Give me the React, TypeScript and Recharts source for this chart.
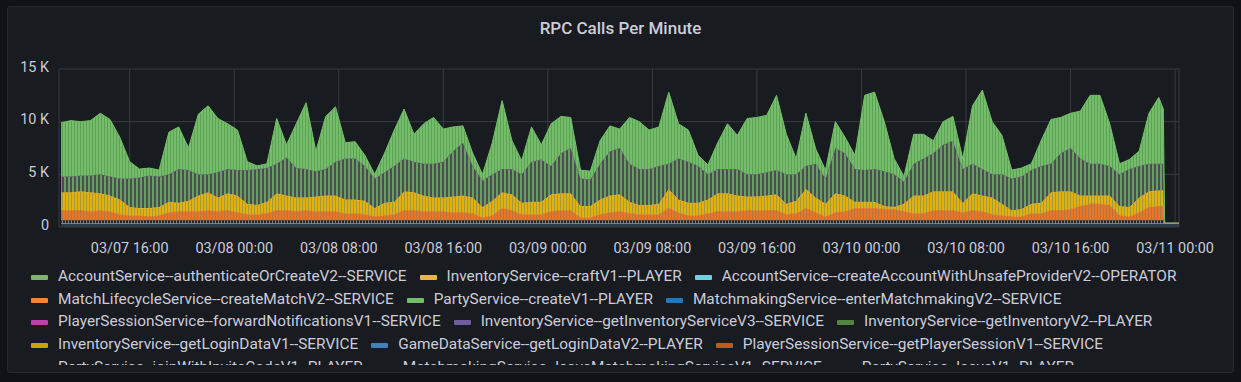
import React from "react";
import { AreaChart, Area, XAxis, YAxis, CartesianGrid } from "recharts";

// hours since 03/07 00:00, one row every 45 minutes, then the drop at the end
const times: number[] = Array.from({ length: 113 }, (_, i) => 10.75 + 0.75 * i).concat([95.1, 95.2, 96.3]);

// values in thousands of calls per minute
const unsafeProviderK = [
  0.35, 0.35, 0.35, 0.35, 0.35, 0.35, 0.35, 0.35, 0.35, 0.35, 0.35, 0.35, 0.35, 0.35, 0.35, 0.35, 0.35, 0.35, 0.35, 0.35,
  0.35, 0.35, 0.35, 0.35, 0.35, 0.35, 0.35, 0.35, 0.35, 0.35, 0.35, 0.35, 0.35, 0.35, 0.35, 0.35, 0.35, 0.35, 0.35, 0.35,
  0.35, 0.35, 0.35, 0.35, 0.35, 0.35, 0.35, 0.35, 0.35, 0.35, 0.35, 0.35, 0.35, 0.35, 0.35, 0.35, 0.35, 0.35, 0.35, 0.35,
  0.35, 0.35, 0.35, 0.35, 0.35, 0.35, 0.35, 0.35, 0.35, 0.35, 0.35, 0.35, 0.35, 0.35, 0.35, 0.35, 0.35, 0.35, 0.35, 0.35,
  0.35, 0.35, 0.35, 0.35, 0.35, 0.35, 0.35, 0.35, 0.35, 0.35, 0.35, 0.35, 0.35, 0.35, 0.35, 0.35, 0.35, 0.35, 0.35, 0.35,
  0.35, 0.35, 0.35, 0.35, 0.35, 0.35, 0.35, 0.35, 0.35, 0.35, 0.35, 0.35, 0.35, 0.35, 0.35, 0.35,
];

const loginDataV2K = [
  0.3, 0.3, 0.3, 0.3, 0.3, 0.3, 0.3, 0.3, 0.3, 0.3, 0.3, 0.3, 0.3, 0.3, 0.3, 0.3, 0.3, 0.3, 0.3, 0.3,
  0.3, 0.3, 0.3, 0.3, 0.3, 0.3, 0.3, 0.3, 0.3, 0.3, 0.3, 0.3, 0.3, 0.3, 0.3, 0.3, 0.3, 0.3, 0.3, 0.3,
  0.3, 0.3, 0.3, 0.3, 0.3, 0.3, 0.3, 0.3, 0.3, 0.3, 0.3, 0.3, 0.3, 0.3, 0.3, 0.3, 0.3, 0.3, 0.3, 0.3,
  0.3, 0.3, 0.3, 0.3, 0.3, 0.3, 0.3, 0.3, 0.3, 0.3, 0.3, 0.3, 0.3, 0.3, 0.3, 0.3, 0.3, 0.3, 0.3, 0.3,
  0.3, 0.3, 0.3, 0.3, 0.3, 0.3, 0.3, 0.3, 0.3, 0.3, 0.3, 0.3, 0.3, 0.3, 0.3, 0.3, 0.3, 0.3, 0.3, 0.3,
  0.3, 0.3, 0.3, 0.3, 0.3, 0.3, 0.3, 0.3, 0.3, 0.3, 0.3, 0.3, 0.3, 0.3, 0, 0,
];

const createMatchK = [
  0.95, 0.95, 0.95, 0.85, 0.95, 0.85, 0.55, 0.45, 0.45, 0.35,
  0.45, 0.75, 0.85, 0.85, 0.85, 0.95, 0.85, 0.95, 0.75, 0.55,
  0.55, 0.65, 0.95, 0.95, 0.85, 0.95, 0.85, 0.85, 0.85, 0.65,
  0.65, 0.55, 0.35, 0.45, 0.55, 0.95, 0.95, 0.85, 0.85, 0.85,
  0.75, 0.75, 0.65, 0.25, 0.45, 1.15, 0.95, 0.55, 0.55, 0.55,
  0.85, 0.95, 0.95, 0.25, 0.25, 0.55, 0.75, 0.85, 0.65, 0.55,
  0.55, 0.55, 1.15, 0.75, 0.45, 0.45, 0.65, 0.85, 0.85, 0.85,
  0.95, 0.95, 0.95, 0.95, 0.55, 0.65, 1.15, 0.75, 0.35, 0.75,
  0.85, 1.15, 1.15, 1.15, 1.05, 1.05, 0.85, 0.65, 0.65, 0.95,
  0.95, 0.95, 0.75, 0.95, 0.85, 0.55, 0.45, 0.35, 0.35, 0.65,
  0.65, 0.95, 0.95, 1.05, 1.35, 1.55, 1.55, 1.45, 0.45, 0.35,
  0.75, 1.25, 1.35, 1.35, 0, 0,
];

const craftK = [
  1.7, 1.7, 1.8, 1.8, 1.6, 1.5, 1.4, 0.8, 0.7, 0.8,
  0.8, 1.0, 0.8, 1.0, 1.5, 1.7, 1.3, 1.6, 1.6, 1.0,
  0.9, 1.1, 1.6, 1.4, 1.3, 1.2, 1.4, 1.5, 1.5, 1.3,
  1.3, 1.3, 0.8, 1.2, 1.2, 1.8, 1.7, 1.5, 1.3, 1.3,
  1.5, 1.6, 1.5, 1.0, 1.4, 1.5, 1.5, 1.1, 1.2, 1.2,
  1.6, 1.6, 1.6, 1.1, 1.1, 1.4, 1.6, 1.6, 1.1, 0.9,
  0.9, 1.0, 1.8, 1.2, 1.2, 1.2, 1.3, 1.7, 1.7, 1.5,
  1.3, 1.3, 1.4, 1.5, 1.0, 1.2, 1.8, 1.4, 1.2, 1.8,
  1.5, 0.6, 0.6, 0.6, 0.3, 0.2, 0.7, 1.7, 1.7, 1.8,
  1.8, 1.8, 0.9, 1.6, 1.5, 1.6, 1.1, 0.6, 0.7, 0.9,
  1.0, 1.7, 1.8, 1.7, 1.0, 0.8, 0.8, 0.9, 0.9, 0.9,
  1.4, 1.5, 1.5, 1.5, 0, 0,
];

const inventoryV2K = [
  1.5, 1.5, 1.5, 1.6, 1.8, 1.8, 2.0, 2.7, 2.9, 3.1,
  2.9, 2.6, 3.2, 2.9, 2.0, 1.7, 2.4, 2.3, 2.4, 3.2,
  3.4, 3.2, 2.8, 3.6, 2.8, 2.7, 2.4, 2.5, 3.2, 3.9,
  3.9, 3.3, 2.8, 2.9, 3.4, 3.1, 2.9, 3.0, 3.2, 3.4,
  4.3, 5.0, 3.0, 2.5, 2.5, 2.2, 2.4, 2.7, 3.8, 4.0,
  2.7, 3.8, 4.3, 2.6, 2.5, 3.4, 4.2, 4.4, 3.6, 3.4,
  3.4, 3.6, 2.4, 3.9, 3.9, 3.5, 2.4, 2.3, 2.3, 2.5,
  2.1, 2.1, 2.2, 2.3, 2.8, 2.5, 2.2, 3.2, 2.4, 4.3,
  4.0, 3.1, 3.0, 3.1, 3.3, 3.1, 2.1, 3.0, 3.5, 3.6,
  4.4, 4.8, 3.2, 2.8, 2.5, 2.2, 2.8, 3.0, 3.1, 3.2,
  3.5, 2.7, 3.6, 4.1, 3.5, 3.0, 3.0, 2.8, 3.0, 3.6,
  3.0, 2.6, 2.5, 2.5, 0, 0,
];

const authenticateK = [
  5.1, 5.3, 5.1, 5.2, 5.8, 5.4, 3.9, 1.6, 0.8, 0.7,
  0.6, 4.0, 4.0, 2.1, 5.7, 6.5, 5.1, 4.3, 3.8, 0.8,
  0.3, 0.4, 4.3, 1.2, 4.2, 6.3, 1.9, 5.0, 5.2, 1.5,
  1.6, 1.0, 0.4, 1.8, 3.4, 4.7, 2.6, 3.8, 4.4, 3.1,
  2.3, 1.6, 1.2, 0.6, 3.0, 6.5, 2.7, 1.3, 3.3, 1.4,
  4.0, 3.5, 2.9, 0.8, 0.8, 2.2, 2.4, 1.8, 4.4, 4.5,
  3.7, 3.7, 6.8, 3.3, 3.0, 1.0, 0.9, 2.5, 4.3, 3.2,
  5.3, 5.4, 5.4, 7.1, 3.8, 1.5, 5.0, 1.4, 0.8, 2.5,
  1.5, 1.3, 7.1, 7.3, 4.7, 1.5, 0.5, 2.8, 2.3, 1.2,
  2.2, 2.3, 1.0, 5.5, 7.5, 5.0, 3.7, 0.8, 0.8, 0.6,
  2.4, 4.2, 3.4, 3.3, 4.5, 6.5, 6.5, 4.0, 1.0, 0.9,
  1.4, 4.8, 6.3, 5.2, 0, 0,
];

const xTicks = [16, 24, 32, 40, 48, 56, 64, 72, 80, 88, 96];
const xTickLabels = [
  "03/07 16:00", "03/08 00:00", "03/08 08:00", "03/08 16:00", "03/09 00:00", "03/09 08:00",
  "03/09 16:00", "03/10 00:00", "03/10 08:00", "03/10 16:00", "03/11 00:00",
];
const yTicks = [0, 5000, 10000, 15000];
const yTickLabels = ["0", "5 K", "10 K", "15 K"];

const legendNames = [
  "AccountService--authenticateOrCreateV2--SERVICE",
  "InventoryService--craftV1--PLAYER",
  "AccountService--createAccountWithUnsafeProviderV2--OPERATOR",
  "MatchLifecycleService--createMatchV2--SERVICE",
  "PartyService--createV1--PLAYER",
  "MatchmakingService--enterMatchmakingV2--SERVICE",
  "PlayerSessionService--forwardNotificationsV1--SERVICE",
  "InventoryService--getInventoryServiceV3--SERVICE",
  "InventoryService--getInventoryV2--PLAYER",
  "InventoryService--getLoginDataV1--SERVICE",
  "GameDataService--getLoginDataV2--PLAYER",
  "PlayerSessionService--getPlayerSessionV1--SERVICE",
  "PartyService--joinWithInviteCodeV1--PLAYER",
  "MatchmakingService--leaveMatchmakingServiceV1--SERVICE",
  "PartyService--leaveV1--PLAYER",
];
const legendColors = [
  "#7eb26d", "#eab839", "#6ed0e0", "#ef843c", "#73bf69", "#1f78c1", "#ba43a9", "#705da0",
  "#508642", "#cca300", "#447ebc", "#c15c17", "#890f02", "#0a437c", "#6d1f62",
];

const data = times.map((t, i) => ({
  t,
  unsafe: unsafeProviderK[i] * 1000,
  loginV2: loginDataV2K[i] * 1000,
  createMatch: createMatchK[i] * 1000,
  craft: craftK[i] * 1000,
  inventoryV2: inventoryV2K[i] * 1000,
  authenticate: authenticateK[i] * 1000,
}));

const FONT = "Roboto, 'Noto Sans', sans-serif";
const TEXT = "#ccccdc";

const XTick = ({ x, y, payload }: any) => {
  const idx = xTicks.indexOf(payload.value);
  return (
    <text x={x} y={y} dy={24} textAnchor="middle" fill={TEXT} fontSize={14.4} fontFamily={FONT}>
      {xTickLabels[idx]}
    </text>
  );
};

const YTick = ({ x, y, payload }: any) => {
  const idx = yTicks.indexOf(payload.value);
  return (
    <text x={x} y={y} dy={2.6} textAnchor="end" fill={TEXT} fontSize={14.4} fontFamily={FONT}>
      {yTickLabels[idx]}
    </text>
  );
};

function Stripe({ id, w, base, line, lw }: { id: string; w: number; base: string; line: string; lw: number }) {
  return (
    <pattern id={id} width={w} height={4} patternUnits="userSpaceOnUse">
      <rect width={w} height={4} fill={base} />
      <rect x={w - lw} width={lw} height={4} fill={line} />
    </pattern>
  );
}

export default function App() {
  return (
    <div style={{ position: "absolute", left: 0, top: 0, width: 1241, height: 382, background: "#111217", overflow: "hidden", fontFamily: FONT }}>
      <div
        style={{
          position: "absolute", left: 7, top: 6, width: 1227, height: 367, boxSizing: "border-box",
          background: "#181b1f", border: "1px solid #25282d", borderRadius: 3,
        }}
      />
      <div
        style={{
          position: "absolute", left: 7, top: 18, width: 1227, height: 20, lineHeight: "20px",
          textAlign: "center", color: TEXT, fontSize: 17, fontWeight: 500,
        }}
      >
        RPC Calls Per Minute
      </div>
      <div style={{ position: "absolute", left: 0, top: 0 }}>
        <AreaChart width={1241} height={262} data={data} margin={{ top: 69, right: 62, bottom: 5, left: 0 }}>
          <defs>
            <Stripe id="stGreen" w={3} base="#73bf69" line="#5f9f57" lw={1} />
            <Stripe id="stGray" w={4} base="#67a05e" line="#4e4b56" lw={2} />
            <Stripe id="stYellow" w={3} base="#e2b10f" line="#a39a3c" lw={1} />
            <Stripe id="stOrange" w={3} base="#e5772b" line="#b8743f" lw={1} />
            <Stripe id="stBase" w={3} base="#23272d" line="#75828c" lw={1} />
          </defs>
          <CartesianGrid stroke="#393b40" strokeWidth={1} />
          <XAxis
            dataKey="t"
            type="number"
            domain={[10.59, 96.3]}
            ticks={xTicks}
            allowDataOverflow
            axisLine={false}
            tickLine={false}
            tickSize={0}
            height={30}
            tick={<XTick />}
          />
          <YAxis
            domain={[0, 15000]}
            ticks={yTicks}
            width={59}
            axisLine={false}
            tickLine={false}
            tickSize={0}
            tickMargin={10}
            tick={<YTick />}
          />
          <Area type="linear" dataKey="unsafe" stackId="a" stroke="#82b5d8" strokeWidth={1} fill="#2a3a48" fillOpacity={1} dot={false} activeDot={false} isAnimationActive={false} />
          <Area type="linear" dataKey="loginV2" stackId="a" stroke="none" fill="url(#stBase)" fillOpacity={1} dot={false} activeDot={false} isAnimationActive={false} />
          <Area type="linear" dataKey="createMatch" stackId="a" stroke="#ef843c" strokeWidth={1} fill="url(#stOrange)" fillOpacity={1} dot={false} activeDot={false} isAnimationActive={false} />
          <Area type="linear" dataKey="craft" stackId="a" stroke="#eab839" strokeWidth={1} fill="url(#stYellow)" fillOpacity={1} dot={false} activeDot={false} isAnimationActive={false} />
          <Area type="linear" dataKey="inventoryV2" stackId="a" stroke="#6d6288" strokeWidth={1} fill="url(#stGray)" fillOpacity={1} dot={false} activeDot={false} isAnimationActive={false} />
          <Area type="linear" dataKey="authenticate" stackId="a" stroke="#73bf69" strokeWidth={1} fill="url(#stGreen)" fillOpacity={1} dot={false} activeDot={false} isAnimationActive={false} />
        </AreaChart>
      </div>
      <div
        style={{
          position: "absolute", left: 31, top: 264.5, width: 1195, height: 100.5, overflow: "hidden",
          display: "flex", flexWrap: "wrap", alignContent: "flex-start",
        }}
      >
        {legendNames.map((name, i) => (
          <div key={name} style={{ display: "flex", alignItems: "center", height: 22.8, marginRight: 13, color: TEXT, fontSize: 15.4, whiteSpace: "nowrap" }}>
            <span style={{ display: "inline-block", width: 17, height: 5, borderRadius: 1, background: legendColors[i], marginRight: 10, marginTop: 3 }} />
            <span>{name}</span>
          </div>
        ))}
      </div>
    </div>
  );
}
